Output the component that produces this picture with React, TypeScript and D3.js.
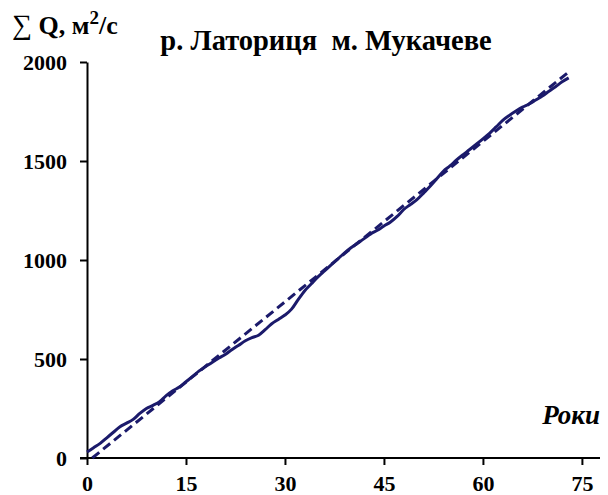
import { useEffect, useRef } from "react";
import * as d3 from "d3";

// cumulative discharge by year
const YEARS = d3.range(0, 74);
const CUM_Q = [
  30, 52, 74, 102, 130, 158, 176, 195, 225, 250,
  266, 284, 315, 340, 358, 385, 412, 440, 462, 484,
  505, 524, 548, 570, 592, 608, 620, 648, 678, 700,
  722, 752, 800, 845, 880, 915, 945, 975, 1005, 1035,
  1062, 1085, 1108, 1132, 1150, 1172, 1192, 1220, 1255, 1280,
  1305, 1338, 1372, 1410, 1448, 1475, 1505, 1532, 1558, 1585,
  1612, 1640, 1672, 1705, 1730, 1752, 1772, 1788, 1808, 1828,
  1852, 1875, 1900, 1920,
];
// straight trend line endpoints [year, value]
const TREND: [number, number][] = [
  [0.8, 0],
  [73, 1950],
];
const X_TICKS = [0, 15, 30, 45, 60, 75];
const Y_TICKS = [0, 500, 1000, 1500, 2000];

const TITLE = "р. Латориця  м. Мукачеве";
const X_LABEL = "Роки";

const LINE_COLOR = "#1b1a6b";
const FONT = "'Liberation Serif', 'Times New Roman', serif";

export default function App() {
  const svgRef = useRef<SVGSVGElement | null>(null);

  useEffect(() => {
    const width = 608;
    const height = 495;
    const svg = d3.select(svgRef.current);
    svg.selectAll("*").remove();
    svg.attr("width", width).attr("height", height);

    // ----- Scales -----
    const x = d3.scaleLinear().domain([0, 78.5]).range([87, 605]);
    const y = d3.scaleLinear().domain([0, 2000]).range([458, 62]);

    // ----- Axes -----
    const xAxis = d3.axisBottom(x).tickValues(X_TICKS).tickSize(7).tickSizeOuter(0)
      .tickFormat(d3.format("d"));
    const xg = svg.append("g").attr("transform", `translate(0,${y(0)})`).call(xAxis);
    xg.select(".domain").attr("d", `M${x(0) - 7},0H${x(78.5)}`);

    const yAxis = d3.axisLeft(y).tickValues(Y_TICKS).tickSize(7).tickSizeOuter(0)
      .tickFormat(d3.format("d"));
    const yg = svg.append("g").attr("transform", `translate(${x(0)},0)`).call(yAxis);

    [xg, yg].forEach((g) => {
      g.selectAll(".domain").attr("stroke", "#000").attr("stroke-width", 2);
      g.selectAll(".tick line").attr("stroke", "#000").attr("stroke-width", 2);
      g.selectAll(".tick text")
        .attr("fill", "#000")
        .attr("font-family", FONT)
        .attr("font-weight", "bold")
        .attr("font-size", 22);
    });
    xg.selectAll(".tick text").attr("dy", "0.71em").attr("y", 17);
    yg.selectAll(".tick text").attr("x", -20);

    // ----- Lines -----
    const data = YEARS.map((yr, i) => [yr, CUM_Q[i]] as [number, number]);
    const line = d3
      .line<[number, number]>()
      .x((d) => x(d[0]))
      .y((d) => y(d[1]))
      .curve(d3.curveMonotoneX);

    svg.append("path")
      .datum(TREND)
      .attr("fill", "none")
      .attr("stroke", LINE_COLOR)
      .attr("stroke-width", 3)
      .attr("stroke-dasharray", "9,5")
      .attr("d", line);

    svg.append("path")
      .datum(data)
      .attr("fill", "none")
      .attr("stroke", LINE_COLOR)
      .attr("stroke-width", 3)
      .attr("d", line);

    // ----- Texts -----
    svg.append("text")
      .attr("x", 326)
      .attr("y", 50)
      .attr("text-anchor", "middle")
      .attr("font-family", FONT)
      .attr("font-weight", "bold")
      .attr("font-size", 28.5)
      .attr("xml:space", "preserve")
      .text(TITLE);

    const yl = svg.append("text")
      .attr("x", 12)
      .attr("y", 34)
      .attr("font-family", FONT)
      .attr("font-weight", "bold")
      .attr("font-size", 26);
    yl.append("tspan").attr("font-size", 28).attr("font-weight", "normal").text("∑");
    yl.append("tspan").text(" Q, м");
    yl.append("tspan").attr("dy", -10).attr("font-size", 19).text("2");
    yl.append("tspan").attr("dy", 10).text("/с");

    svg.append("text")
      .attr("x", 600)
      .attr("y", 424)
      .attr("text-anchor", "end")
      .attr("font-family", FONT)
      .attr("font-weight", "bold")
      .attr("font-style", "italic")
      .attr("font-size", 27)
      .text(X_LABEL);
  }, []);

  return (
    <div style={{ margin: -8 }}>
      <svg ref={svgRef}></svg>
    </div>
  );
}
